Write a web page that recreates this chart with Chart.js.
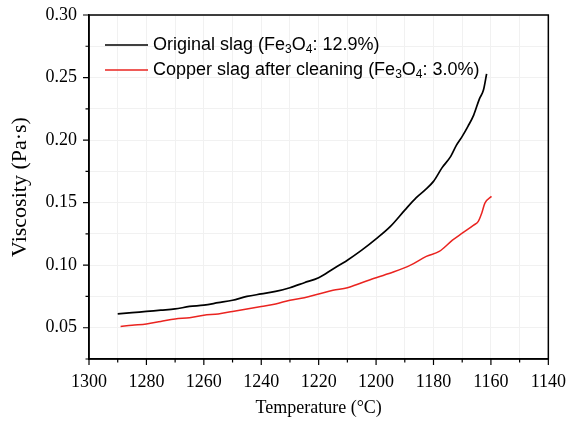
<!DOCTYPE html>
<html>
<head>
<meta charset="utf-8">
<script src="https://cdn.jsdelivr.net/npm/chart.js@4.4.1/dist/chart.umd.min.js"></script>
<style>
html,body{margin:0;padding:0;background:#fff;}
</style>
</head>
<body>
<canvas id="viscosityChart" width="578" height="421"></canvas>
<script>
'use strict';
// Viscosity vs temperature for original and cleaned copper slag
var tempOriginal = [1290,1285,1280,1275,1270,1265,1260,1255,1250,1245,1240,1235,1230,1225,1220,1215,1210,1205,1200,1195,1190,1186,1183,1180,1177,1174,1172,1170,1168,1166,1164,1162.6,1161.5];
var viscOriginal = [0.061,0.062,0.063,0.064,0.065,0.067,0.068,0.070,0.072,0.075,0.077,0.079,0.082,0.086,0.090,0.097,0.104,0.112,0.121,0.131,0.144,0.154,0.160,0.167,0.178,0.187,0.196,0.203,0.211,0.220,0.233,0.240,0.253];
var tempCleaned = [1289,1285,1280,1275,1270,1265,1260,1255,1250,1245,1240,1235,1230,1225,1220,1215,1210,1205,1200,1194,1188,1182.5,1178,1173.4,1170,1166,1164.4,1163.2,1162.1,1159.8];
var viscCleaned = [0.051,0.052,0.053,0.055,0.057,0.058,0.060,0.061,0.063,0.065,0.067,0.069,0.072,0.074,0.077,0.080,0.082,0.086,0.090,0.0945,0.100,0.107,0.111,0.120,0.1256,0.132,0.135,0.1416,0.1496,0.155];
var seriesLabels = ['Original slag (Fe3O4: 12.9%)','Copper slag after cleaning (Fe3O4: 3.0%)'];
var seriesColors = ['#000000','#ea2420'];
var xTickLabels = [1300,1280,1260,1240,1220,1200,1180,1160,1140];
var yTickLabels = [0.05,0.10,0.15,0.20,0.25,0.30];

(function () {
    function pts(xs, ys)
    {
        var out = []; for (var i = 0; i < xs.length; i++) {
            out.push({ x:xs[i], y:ys[i] }); } return out; }
    function isMajor(list, v)
    {
        for (var i = 0; i < list.length; i++) {
            if (Math.abs(list[i] - v) < 1e-6) {
                return true; } } return false; }
    // rich text: a digit right after a letter is a subscript (Fe3O4)
    function richText(ctx, text, x, y)
    {
        for (var i = 0; i < text.length; i++) {
            var c = text[i], sub = /\d/.test(c) && i > 0 && /[A-Za-z]/.test(text[i - 1]);
            ctx.font = sub ? '12px "Liberation Sans", Arial, sans-serif' : '18px "Liberation Sans", Arial, sans-serif';
            ctx.fillText(c, x, sub ? y + 5 : y);
            x += ctx.measureText(c).width; } }
    var frame = {
        id:'frame',
        afterDraw:function (chart) {
            var ctx = chart.ctx, a = chart.chartArea, sx = chart.scales.x, sy = chart.scales.y;
            ctx.save();
            ctx.strokeStyle = '#000'; ctx.lineWidth = 1.5;
            ctx.strokeRect(a.left, a.top, a.right - a.left, a.bottom - a.top);
            ctx.lineWidth = 1.2; ctx.beginPath();
            sx.ticks.forEach(function (t) {
                var p = sx.getPixelForValue(t.value), l = isMajor(xTickLabels, t.value) ? 6 : 3.5;
                ctx.moveTo(p, a.bottom); ctx.lineTo(p, a.bottom + l); });
            sy.ticks.forEach(function (t) {
                var p = sy.getPixelForValue(t.value), l = isMajor(yTickLabels, t.value) ? 6 : 3.5;
                ctx.moveTo(a.left, p); ctx.lineTo(a.left - l, p); });
            ctx.stroke();
            // legend
            ctx.textBaseline = 'middle'; ctx.fillStyle = '#000';
            chart.data.datasets.forEach(function (ds, i) {
                var y = a.top + 30 + i * 25;
                ctx.strokeStyle = ds.borderColor; ctx.lineWidth = 1.6;
                ctx.beginPath(); ctx.moveTo(a.left + 16, y); ctx.lineTo(a.left + 59, y); ctx.stroke();
                richText(ctx, ds.label, a.left + 64, y); });
            ctx.restore(); }
    };
    function build()
    {
        var el = document.getElementById('viscosityChart');
        new Chart(el.getContext('2d'), {
            type:'line',
            data:{
                datasets:[{
                    label:seriesLabels[0],
                    data:pts(tempOriginal, viscOriginal),
                    borderColor:seriesColors[0],
                    borderWidth:1.7,
                    pointRadius:0,
                    cubicInterpolationMode:'monotone'
                },{
                    label:seriesLabels[1],
                    data:pts(tempCleaned, viscCleaned),
                    borderColor:seriesColors[1],
                    borderWidth:1.5,
                    pointRadius:0,
                    cubicInterpolationMode:'monotone'
                }]
            },
            options:{
                responsive:false,
                animation:false,
                devicePixelRatio:1,
                layout:{ padding:{ top:15, right:20, left:0, bottom:0 } },
                plugins:{ legend:{ display:false }, tooltip:{ enabled:false } },
                scales:{
                    x:{
                        type:'linear', reverse:true, min:1140, max:1300,
                        afterFit:function (s) { s.height = 62; },
                        grid:{ color:'#f1f1f1', drawTicks:false },
                        border:{ color:'#000', width:1.5 },
                        ticks:{
                            stepSize:10, padding:12, color:'#000', maxRotation:0, autoSkip:false,
                            font:{ family:'"Liberation Serif", "Times New Roman", serif', size:18 },
                            callback:function (v) { return isMajor(xTickLabels, v) ? String(v) : ''; }
                        },
                        title:{ display:true, text:'Temperature (\u00b0C)', color:'#000', padding:{ top:0, bottom:2 },
                            font:{ family:'"Liberation Serif", "Times New Roman", serif', size:18 } }
                    },
                    y:{
                        min:0.025, max:0.30,
                        afterFit:function (s) { s.width = 89; s.paddingTop = 0; s.paddingBottom = 0; },
                        grid:{ color:'#f1f1f1', drawTicks:false },
                        border:{ color:'#000', width:1.5 },
                        ticks:{
                            stepSize:0.025, padding:12, color:'#000', autoSkip:false,
                            font:{ family:'"Liberation Serif", "Times New Roman", serif', size:18 },
                            callback:function (v) { return isMajor(yTickLabels, v) ? v.toFixed(2) : ''; }
                        },
                        title:{ display:true, text:'Viscosity (Pa\u00b7s)', color:'#000', padding:{ top:7, bottom:0 },
                            font:{ family:'"Liberation Serif", "Times New Roman", serif', size:22 } }
                    }
                }
            },
            plugins:[frame]
        });
    }
    if (document.readyState === 'loading') {
        document.addEventListener('DOMContentLoaded', build); } else {
        build();
        }
})();
</script>
</body>
</html>
